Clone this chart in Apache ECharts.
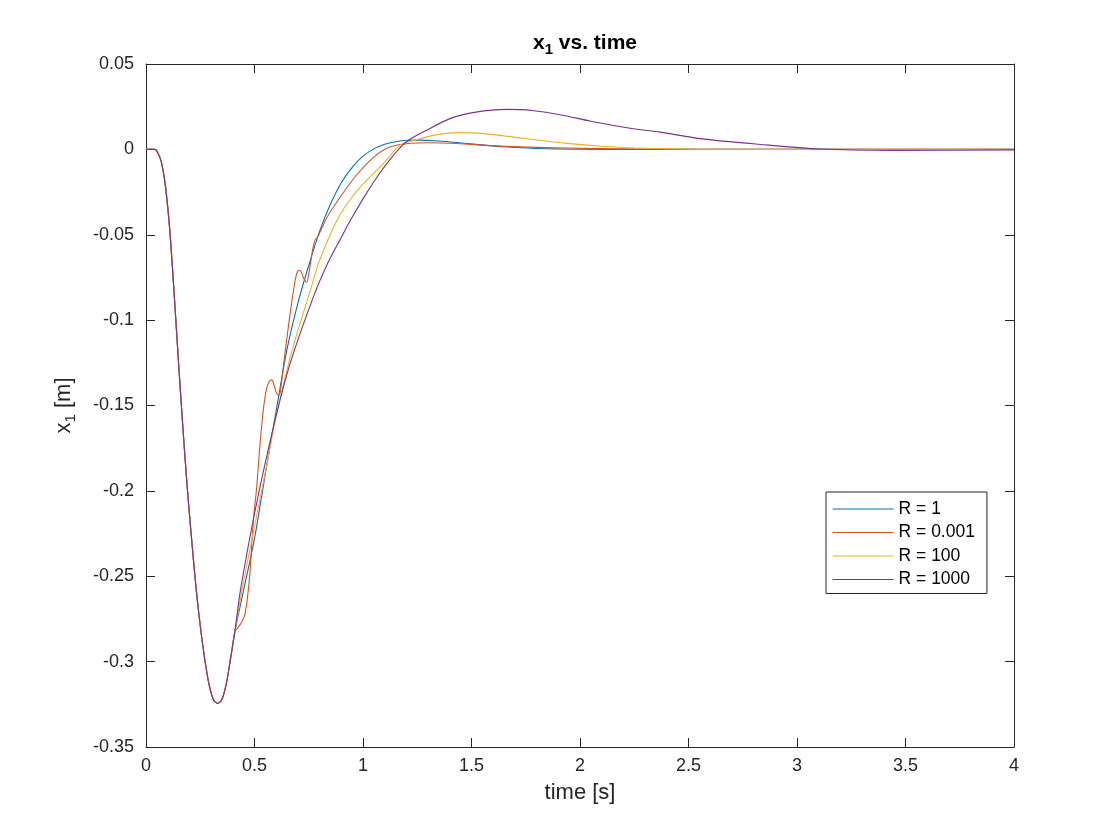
<!DOCTYPE html>
<html>
<head>
<meta charset="utf-8">
<title>x1 vs. time</title>
<script src="https://cdn.jsdelivr.net/npm/echarts@6/dist/echarts.min.js"></script>
<style>
html,body{margin:0;padding:0;background:#fff;}
#main{width:1120px;height:840px;}
</style>
</head>
<body>
<div id="main"></div>
<script>
// shared part of the response (all R values coincide up to ~0.41 s)
var commonT = [0, 0.04, 0.05, 0.07, 0.09, 0.11, 0.13, 0.15, 0.17, 0.19, 0.21, 0.23, 0.25, 0.27, 0.29, 0.31, 0.33, 0.35, 0.37, 0.39];
var commonV = [0, 0, -0.001, -0.007, -0.022, -0.048, -0.085, -0.125, -0.163, -0.198, -0.228, -0.256, -0.279, -0.298, -0.313, -0.322, -0.3245, -0.322, -0.313, -0.298];

// R = 1
var blueT = [0.41, 0.45, 0.50, 0.55, 0.60, 0.65, 0.70, 0.75, 0.80, 0.85, 0.90, 0.95, 1.00, 1.05, 1.10, 1.15, 1.20, 1.25, 1.35, 1.50, 1.65, 1.80, 2.0, 2.5, 3.0, 4.0];
var blueV = [-0.282, -0.258, -0.228, -0.190, -0.153, -0.117, -0.090, -0.068, -0.048, -0.032, -0.0195, -0.0105, -0.004, 0.0003, 0.003, 0.0045, 0.0053, 0.0054, 0.0049, 0.0032, 0.0015, 0.0005, 0.0001, 0, 0, 0];

// R = 0.001
var redT = [0.41, 0.418, 0.441, 0.456, 0.468, 0.479, 0.495, 0.51, 0.522, 0.533, 0.545, 0.556, 0.568, 0.579, 0.59, 0.602, 0.614, 0.625, 0.636, 0.648, 0.66, 0.671, 0.683, 0.694, 0.706, 0.716, 0.725, 0.74, 0.75, 0.759, 0.769, 0.779, 0.79, 0.80, 0.833, 0.90, 0.97, 1.05, 1.12, 1.2, 1.3, 1.45, 1.63, 1.94, 2.25, 2.6, 3.0, 4.0];
var redV = [-0.282, -0.281, -0.277, -0.272, -0.262, -0.248, -0.217, -0.198, -0.178, -0.162, -0.148, -0.140, -0.136, -0.135, -0.138, -0.143, -0.144, -0.136, -0.124, -0.112, -0.100, -0.090, -0.080, -0.073, -0.0708, -0.072, -0.0752, -0.0778, -0.073, -0.066, -0.058, -0.053, -0.0515, -0.049, -0.040, -0.027, -0.015, -0.0045, 0.0012, 0.0033, 0.0039, 0.0033, 0.0019, 0.0008, 0.0002, 0, 0, 0];

// R = 100
var yellowT = [0.41, 0.45, 0.50, 0.55, 0.60, 0.656, 0.70, 0.748, 0.80, 0.856, 0.90, 0.955, 1.017, 1.10, 1.17, 1.2, 1.25, 1.324, 1.43, 1.53, 1.63, 1.78, 1.94, 2.1, 2.25, 2.55, 3.0, 4.0];
var yellowV = [-0.282, -0.253, -0.221, -0.189, -0.156, -0.126, -0.106, -0.0865, -0.065, -0.048, -0.037, -0.027, -0.018, -0.0075, 0.0025, 0.004, 0.0058, 0.0082, 0.0098, 0.0095, 0.0082, 0.0058, 0.0035, 0.0018, 0.0008, 0.0001, 0, 0];

// R = 1000
var purpleT = [0.41, 0.433, 0.479, 0.525, 0.594, 0.664, 0.771, 0.84, 0.894, 0.94, 1.0, 1.05, 1.1, 1.15, 1.2, 1.29, 1.401, 1.52, 1.662, 1.78, 1.908, 2.05, 2.245, 2.369, 2.553, 2.83, 3.106, 3.44, 4.0];
var purpleV = [-0.282, -0.260, -0.227, -0.198, -0.159, -0.1255, -0.0865, -0.066, -0.053, -0.042, -0.029, -0.019, -0.010, -0.002, 0.0045, 0.011, 0.018, 0.0218, 0.0234, 0.0228, 0.0203, 0.0165, 0.0121, 0.0101, 0.0063, 0.0029, 0.0002, -0.0006, -0.0003];

var names = ['R = 1', 'R = 0.001', 'R = 100', 'R = 1000'];
var colors = ['#0072BD', '#D95319', '#EDB120', '#7E2F8E'];

var xTicks = [0, 4, 0.5];       // min, max, interval
var yTicks = [-0.35, 0.05, 0.05];

function pairs(t, v){
	var out = [];
	for (var i = 0; i < commonT.length; i++) out.push([commonT[i], commonV[i]]);
	for (var j = 0; j < t.length; j++) out.push([t[j], v[j]]);
	return out;
}

var font = 'Liberation Sans, Arial, Helvetica, sans-serif';
var axisCol = '#262626';

var tails = [[blueT, blueV], [redT, redV], [yellowT, yellowV], [purpleT, purpleV]];
var series = [];
for (var k = 0; k < tails.length; k++) {
	series.push({
		name: names[k],
		type: 'line',
		data: pairs(tails[k][0], tails[k][1]),
		symbol: 'none',
		smooth: 0.3,
		lineStyle: {width: 1.1, color: colors[k]},
		itemStyle: {color: colors[k]},
		animation: false
	});
}

function boxAxis(common, extra){
	var o = {
		type: 'value',
		min: common[0], max: common[1], interval: common[2],
		axisLine: {show: true, onZero: false, lineStyle: {color: axisCol, width: 1}},
		axisTick: {show: true, inside: true, length: 9, lineStyle: {color: axisCol}},
		splitLine: {show: false}
	};
	for (var key in extra) o[key] = extra[key];
	return o;
}

var chart = echarts.init(document.getElementById('main'));
chart.setOption({
	backgroundColor: '#fff',
	animation: false,
	title: {
		text: '{b|x}{s|1}{b| vs. time}',
		left: 580,
		top: 24,
		textAlign: 'center',
		textStyle: {
			rich: {
				b: {fontFamily: font, fontSize: 21, fontWeight: 'bold', color: '#000'},
				s: {fontFamily: font, fontSize: 15, fontWeight: 'bold', color: '#000', padding: [13, 0, 0, 0]}
			}
		}
	},
	grid: {left: 146, right: 106, top: 64, bottom: 93, containLabel: false},
	legend: {
		orient: 'vertical',
		left: 826,
		top: 492,
		padding: [8, 12, 5, 6],
		itemWidth: 61,
		itemHeight: 14,
		itemGap: 5.5,
		itemStyle: {opacity: 0, borderWidth: 0},
		lineStyle: {width: 1.1},
		backgroundColor: '#fff',
		borderColor: axisCol,
		borderWidth: 1,
		borderRadius: 0,
		textStyle: {fontFamily: font, fontSize: 17.5, color: '#000'},
		data: names
	},
	xAxis: [
		boxAxis(xTicks, {
			position: 'bottom',
			name: 'time [s]',
			nameLocation: 'middle',
			nameGap: 35,
			nameTextStyle: {fontFamily: font, fontSize: 22, color: axisCol},
			axisLabel: {fontFamily: font, fontSize: 18, color: axisCol, margin: 10}
		}),
		boxAxis(xTicks, {position: 'top', axisLabel: {show: false}})
	],
	yAxis: [
		boxAxis(yTicks, {
			position: 'left',
			name: '{n|x}{s|1}{n| [m]}',
			nameLocation: 'middle',
			nameGap: 68,
			nameTextStyle: {
				rich: {
					n: {fontFamily: font, fontSize: 22, color: axisCol},
					s: {fontFamily: font, fontSize: 15, color: axisCol, padding: [13, 0, 0, 0]}
				}
			},
			axisLabel: {
				fontFamily: font, fontSize: 18, color: axisCol, margin: 12,
				formatter: function(v){ return String(+v.toFixed(2)); }
			}
		}),
		boxAxis(yTicks, {position: 'right', axisLabel: {show: false}})
	],
	series: series
});
</script>
</body>
</html>
